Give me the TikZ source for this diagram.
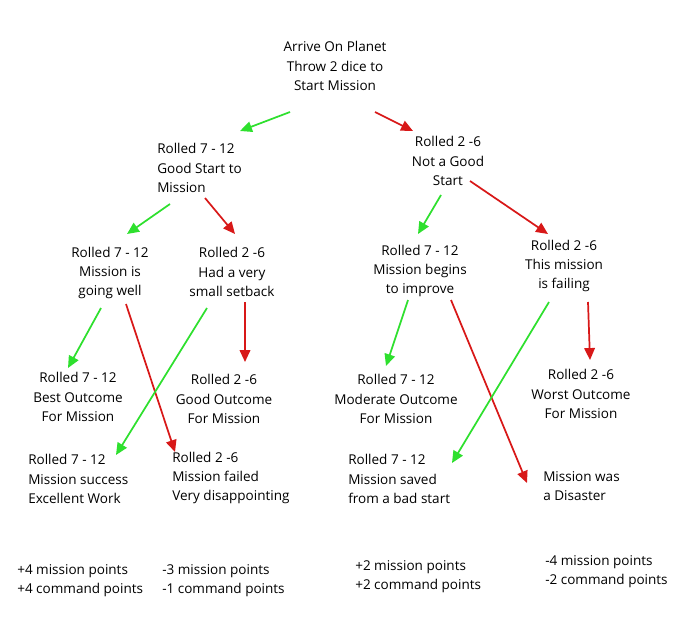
\documentclass[tikz,border=0pt]{standalone}
\usepackage{fontspec}
\setmainfont{Open Sans}
\usetikzlibrary{arrows.meta}
\definecolor{gA}{HTML}{2EE02E}
\definecolor{rA}{HTML}{D81818}
\begin{document}
\begin{tikzpicture}[x=0.0265cm,y=-0.0265cm,
  t/.style={align=center,font=\fontsize{10.2}{14.5}\selectfont,inner sep=0pt},
  tl/.style={align=left,anchor=west,font=\fontsize{10.2}{14.5}\selectfont,inner sep=0pt},
  ar/.style={line width=1.3pt,-{Triangle[length=9pt,width=8pt]}},
  g/.style={ar,gA}, r/.style={ar,rA}]
\useasboundingbox[fill=white] (0,0) rectangle (686,623);
\node[t] (top) at (335,66) {Arrive On Planet\\Throw 2 dice to\\Start Mission};
\node[tl] (gs) at (157,168) {Rolled 7 - 12\\Good Start to\\Mission};
\node[t] (ngs) at (448,161) {Rolled 2 -6\\Not a Good\\Start};
\node[t] (gw) at (110,273) {Rolled 7 - 12\\Mission is\\going well};
\node[t] (ss) at (232,272) {Rolled 2 -6\\Had a very\\small setback};
\node[t] (mb) at (420,271) {Rolled 7 - 12\\Mission begins\\to improve};
\node[t] (mf) at (564,266) {Rolled 2 -6\\This mission\\is failing};
\node[t] (bo) at (78,397) {Rolled 7 - 12\\Best Outcome\\For Mission};
\node[t] (go) at (224,399) {Rolled 2 -6\\Good Outcome\\For Mission};
\node[t] (mo) at (396,399) {Rolled 7 - 12\\Moderate Outcome\\For Mission};
\node[t] (wo) at (581,394) {Rolled 2 -6\\Worst Outcome\\For Mission};
\node[tl] (su) at (28,479) {Rolled 7 - 12\\Mission success\\Excellent Work};
\node[tl] (fa) at (172,478) {Rolled 2 -6\\Mission failed\\Very disappointing};
\node[tl] (sa) at (348,479) {Rolled 7 - 12\\Mission saved\\from a bad start};
\node[tl] (di) at (543,486) {Mission was\\a Disaster};
\node[tl] (p1) at (17,581) {+4 mission points\\+4 command points};
\node[tl] (p2) at (162,581) {-3 mission points\\-1 command points};
\node[tl] (p3) at (355,577) {+2 mission points\\+2 command points};
\node[tl] (p4) at (545,572) {-4 mission points\\-2 command points};
\foreach \n/\a/\b/\c/\d in {a1/290/112/240/131, a2/375/112/413/131,
  b1/170/204/127/234, b2/205/198/235/234, c1/441/195/418/234, c2/470/181/548/234,
  d1/101/308/68/368, d2/126/304/175/452, e1/207/308/116/455, e2/245/302/245/362,
  f1/408/300/386/366, f2/451/300/527/483, h1/549/302/452/463, h2/588/302/590/360}
  {\coordinate (\n s) at (\a,\b); \coordinate (\n e) at (\c,\d);}
\draw[g] (a1s) -- (a1e); \draw[r] (a2s) -- (a2e);
\draw[g] (b1s) -- (b1e); \draw[r] (b2s) -- (b2e);
\draw[g] (c1s) -- (c1e); \draw[r] (c2s) -- (c2e);
\draw[g] (d1s) -- (d1e); \draw[r] (d2s) -- (d2e);
\draw[g] (e1s) -- (e1e); \draw[r] (e2s) -- (e2e);
\draw[g] (f1s) -- (f1e); \draw[r] (f2s) -- (f2e);
\draw[g] (h1s) -- (h1e); \draw[r] (h2s) -- (h2e);
\end{tikzpicture}
\end{document}
